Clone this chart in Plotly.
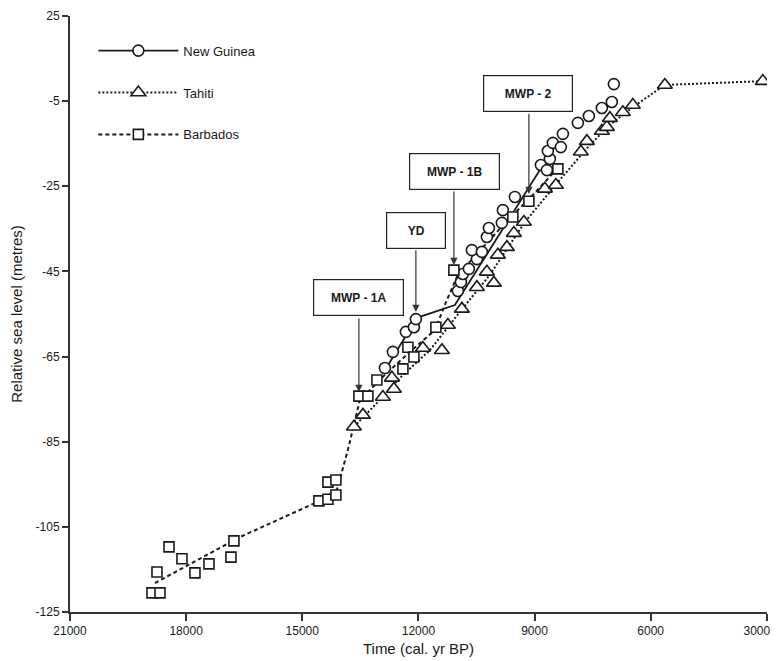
import plotly.graph_objects as go

# ---------------- data ----------------
# New Guinea (circles)
ng_age = [12865, 12659, 12323, 12116, 12065, 10980, 10902, 10851, 10696, 10489,
          10618, 10360, 10231, 10179, 9844, 9818, 9508, 8836, 8681, 8604,
          8656, 8527, 8320, 8268, 7881, 7597, 7261, 7003, 6951]
ng_level = [-67.7, -63.9, -59.2, -58.1, -56.2, -49.6, -47.5, -45.6, -44.4, -42.1,
            -40.0, -40.4, -36.9, -34.8, -33.6, -30.6, -27.5, -20.0, -21.2, -18.6,
            -16.7, -14.8, -15.8, -12.7, -10.1, -8.5, -6.6, -5.2, -1.0]
# Tahiti (triangles)
ta_age = [13666, 13433, 12917, 12684, 12633, 11884, 11393, 11238, 10877, 10489,
          10231, 10050, 9947, 9714, 9534, 9275, 8733, 8449, 7803, 7648,
          7261, 7132, 7054, 6719, 6461, 5634, 3103]
ta_level = [-81.5, -78.7, -74.5, -70.0, -72.6, -63.0, -63.5, -57.6, -53.8, -48.7,
            -45.1, -47.7, -41.1, -39.3, -36.0, -33.4, -25.6, -24.7, -16.9, -14.4,
            -12.0, -11.1, -9.0, -7.6, -5.9, -1.2, -0.3]
# Barbados (squares)
ba_age = [18882, 18676, 18753, 18443, 18108, 17772, 17410, 16842, 16765, 14570,
          14337, 14131, 14337, 14131, 13537, 13304, 13072, 12400, 12271, 12116,
          11548, 11083, 9560, 9146, 8397]
ba_level = [-120.5, -120.5, -115.6, -109.7, -112.5, -115.8, -113.7, -112.1, -108.3, -98.9,
            -98.5, -97.5, -94.5, -94.0, -74.3, -74.3, -70.5, -67.9, -62.8, -65.1,
            -58.1, -44.7, -32.2, -28.5, -20.9]

# fitted curves drawn through each record
ng_curve_age = [12865, 12039, 11057, 8733]
ng_curve_level = [-68.2, -55.9, -52.9, -19.3]
ta_curve_age = [13666, 13123, 12478, 11703, 10928, 10154, 9250, 8346, 7571, 7055, 6461, 5634, 3103]
ta_curve_level = [-81.5, -76.4, -70.0, -63.5, -54.5, -45.8, -33.4, -23.5, -15.3, -10.6, -6.4, -1.2, -0.3]
ba_curve_age = [18805, 16610, 14621, 14105, 13821, 13511, 12865, 12220, 11574, 11264,
                10980, 10283, 9637, 9120, 8397]
ba_curve_level = [-118.2, -107.4, -99.2, -96.3, -86.9, -75.2, -69.3, -63.9, -58.8, -51.7,
                  -45.8, -38.8, -32.4, -27.8, -20.7]

# event labels: box position and arrow (start -> tip)
ev_names = ["MWP - 1A", "YD", "MWP - 1B", "MWP - 2"]
ev_box_age = [13549, 12065, 11070, 9172]
ev_box_level = [-51.2, -35.4, -21.5, -3.2]
ev_box_w = [83, 52, 83, 82]
ev_arrow_age = [13537, 12065, 11083, 9146]
ev_arrow_from = [-55.7, -39.7, -25.9, -7.6]
ev_arrow_to = [-73.3, -54.5, -43.5, -26.8]

# axes ticks
x_ticks = [21000, 18000, 15000, 12000, 9000, 6000, 3000]
x_ticktext = ["21000", "18000", "15000", "12000", "9000", "6000", "3000"]
y_tickvals = [15, -5, -25, -45, -65, -85, -105, -125]
y_ticktext = ["25", "-5", "-25", "-45", "-65", "-85", "-105", "-125"]

FONT = "Liberation Sans Narrow, Arial Narrow, Liberation Sans, Arial, sans-serif"
INK = "#1a1a1a"

# the last label sits on the right edge of the page: pad it so it stays in view
x_labels = list(x_ticktext)
x_labels[-1] = x_labels[-1] + "\u00a0" * 6

fig = go.Figure()

# curves
fig.add_trace(go.Scatter(x=ng_curve_age, y=ng_curve_level, mode="lines",
                         line=dict(color=INK, width=1.8, dash="solid"), showlegend=False, hoverinfo="skip"))
fig.add_trace(go.Scatter(x=ta_curve_age, y=ta_curve_level, mode="lines",
                         line=dict(color=INK, width=2, dash="2px,2px"), showlegend=False, hoverinfo="skip"))
fig.add_trace(go.Scatter(x=ba_curve_age, y=ba_curve_level, mode="lines",
                         line=dict(color=INK, width=2, dash="4px,3px"), showlegend=False, hoverinfo="skip"))

# markers
mk_line = dict(color=INK, width=1.6)
fig.add_trace(go.Scatter(x=ng_age, y=ng_level, mode="markers", showlegend=False,
                         marker=dict(symbol="circle", size=11, color="white", line=mk_line)))
fig.add_trace(go.Scatter(x=ta_age, y=ta_level, mode="markers", showlegend=False,
                         marker=dict(symbol="triangle-up", size=13, color="white", line=mk_line)))
fig.add_trace(go.Scatter(x=ba_age, y=ba_level, mode="markers", showlegend=False,
                         marker=dict(symbol="square", size=10, color="white", line=mk_line)))

# legend entries
fig.add_trace(go.Scatter(x=[None], y=[None], mode="lines+markers", name="New Guinea", legendgroup="a",
                         line=dict(color=INK, width=1.8, dash="solid"),
                         marker=dict(symbol="circle", size=11, color="white", line=mk_line)))
fig.add_trace(go.Scatter(x=[None], y=[None], mode="lines+markers", name="Tahiti", legendgroup="b",
                         line=dict(color=INK, width=2, dash="2px,2px"),
                         marker=dict(symbol="triangle-up", size=13, color="white", line=mk_line)))
fig.add_trace(go.Scatter(x=[None], y=[None], mode="lines+markers", name="Barbados", legendgroup="c",
                         line=dict(color=INK, width=2, dash="4px,3px"),
                         marker=dict(symbol="square", size=10, color="white", line=mk_line)))

# event annotations
for name, bx, by, bw, axg, a0, a1 in zip(ev_names, ev_box_age, ev_box_level, ev_box_w,
                                         ev_arrow_age, ev_arrow_from, ev_arrow_to):
    fig.add_annotation(x=axg, y=a1, ax=axg, ay=a0, xref="x", yref="y", axref="x", ayref="y",
                       text="", showarrow=True, arrowhead=2, arrowsize=1.2, arrowwidth=1.2,
                       arrowcolor="#333333", standoff=0)
    fig.add_annotation(x=bx, y=by, xref="x", yref="y", text="<b>%s</b>" % name, showarrow=False,
                       font=dict(family=FONT, size=12, color=INK), bgcolor="white",
                       bordercolor="#222222", borderwidth=1.2, borderpad=3, width=bw, height=29)

fig.update_layout(
    width=771, height=653,
    margin=dict(l=62, r=12, t=8, b=49, autoexpand=False),
    paper_bgcolor="white", plot_bgcolor="white",
    font=dict(family=FONT, size=12, color=INK),
    showlegend=True,
    legend=dict(x=0.0335, y=0.967, xanchor="left", yanchor="top", bgcolor="rgba(0,0,0,0)",
                font=dict(family=FONT, size=13, color=INK), tracegroupgap=22, itemwidth=80),
    xaxis=dict(range=[21000, 2995], tickmode="array", tickvals=x_ticks, automargin=False,
               ticktext=x_labels, showgrid=False, zeroline=False,
               ticklabeloverflow="allow",
               showline=True, linecolor="#333333", linewidth=2, ticks="outside", ticklen=7,
               tickwidth=1.5, tickcolor="#333333", tickfont=dict(family=FONT, size=12),
               title=dict(text="Time (cal. yr BP)", font=dict(family=FONT, size=15), standoff=6)),
    yaxis=dict(range=[-125, 15], tickmode="array", tickvals=y_tickvals, ticktext=y_ticktext,
               automargin=False,
               showgrid=False, zeroline=False, showline=True, linecolor="#333333", linewidth=2,
               ticks="outside", ticklen=6, tickwidth=1.5, tickcolor="#333333",
               tickfont=dict(family=FONT, size=12),
               title=dict(text="Relative sea level (metres)", font=dict(family=FONT, size=15), standoff=14)),
)

fig.write_html("out.html")
